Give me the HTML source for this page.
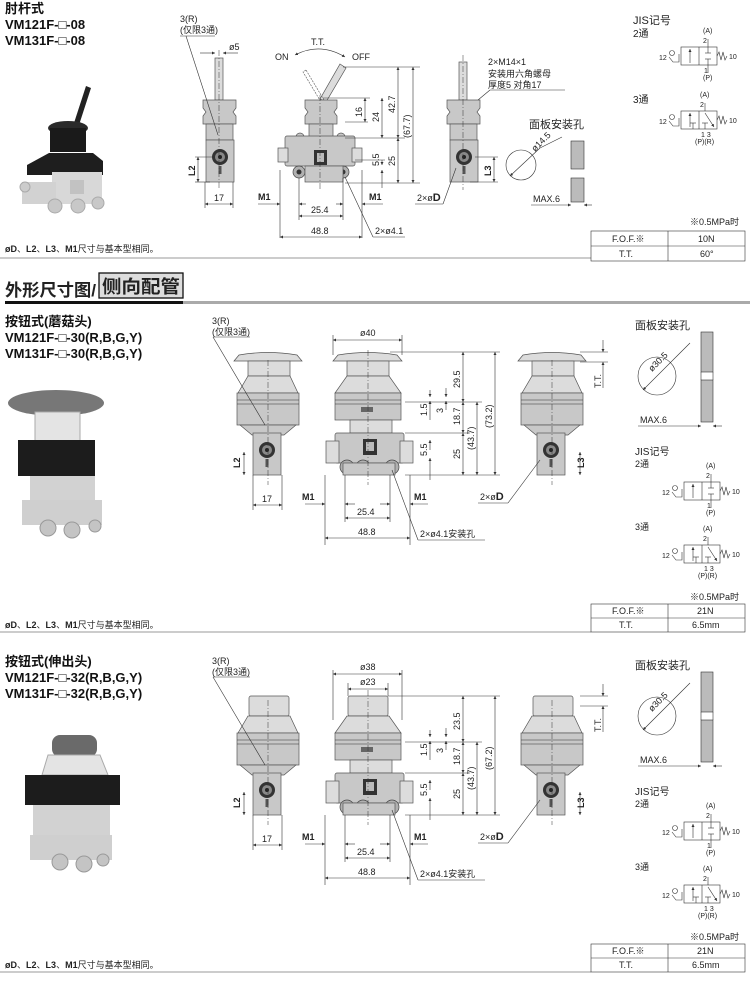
<!DOCTYPE html>
<html><head><meta charset="utf-8"><style>
body{margin:0;background:#fff;width:750px;height:982px;overflow:hidden}
svg{display:block}
text{font-family:"Liberation Sans","Noto Sans CJK SC",sans-serif;fill:#222}
.t{font-size:9px}
.b{font-weight:bold}
.ti{font-size:13px;font-weight:bold;fill:#111}
.g1{fill:#c8c8c8;stroke:#555;stroke-width:.7}
.g2{fill:#dcdcdc;stroke:#555;stroke-width:.7}
.g3{fill:#b0b0b0;stroke:#444;stroke-width:.7}
.d{stroke:#333;stroke-width:.6;fill:none}
.c{stroke:#333;stroke-width:.5;fill:none;stroke-dasharray:6 2 1 2}
</style></head><body>
<svg width="750" height="982" viewBox="0 0 750 982" xmlns="http://www.w3.org/2000/svg">
<defs>
<marker id="a" viewBox="0 0 6 6" refX="6" refY="3" markerWidth="5" markerHeight="5" orient="auto-start-reverse"><path d="M0,0L6,3L0,6z" fill="#333"/></marker>
<g id="sideLow">
<rect class="g1" x="-14" y="0" width="28" height="42"/>
<circle cx="0" cy="17" r="8" fill="#333"/><circle cx="0" cy="17" r="5" fill="#888"/><circle cx="0" cy="17" r="2" fill="#222"/>
<rect x="-1.5" y="26" width="3" height="8" fill="#555"/>
</g>
<g id="frontBase">
<rect class="g1" x="-34" y="0" width="69" height="30" rx="2"/>
<rect class="g2" x="-43" y="8" width="13" height="22"/><rect class="g2" x="31" y="8" width="13" height="22"/>
<rect x="-6" y="6" width="14" height="16" fill="#333"/><rect x="-3" y="9" width="8" height="9" fill="#bbb"/>
<circle cx="-22" cy="34" r="7" class="g3"/><circle cx="-22" cy="34" r="3" fill="#333"/>
<circle cx="-6" cy="34" r="7" class="g3"/><circle cx="-6" cy="34" r="3" fill="#333"/>
<circle cx="23" cy="34" r="7" class="g3"/><circle cx="23" cy="34" r="3" fill="#333"/>
<rect class="g1" x="-26" y="30" width="52" height="12"/>
</g>
<g id="pbBody">
<path class="g2" d="M248,376h42l8,17h-60z"/><rect class="g1" x="237" y="393" width="62" height="32"/>
<line class="d" x1="237" y1="400" x2="299" y2="400"/><line class="d" x1="237" y1="404" x2="299" y2="404"/>
<path class="g1" d="M240,425h56l-12,10h-32z"/>
<use href="#sideLow" x="267" y="433"/>
<path class="g2" d="M347,376h42l12,17h-66z"/><rect class="g1" x="335" y="393" width="66" height="27"/>
<line class="d" x1="335" y1="400" x2="401" y2="400"/><line class="d" x1="335" y1="404" x2="401" y2="404"/>
<rect class="g2" x="350" y="420" width="42" height="13"/><rect x="361" y="407" width="12" height="5" fill="#666"/>
<use href="#frontBase" x="369" y="433"/>
<path class="g2" d="M532,376h42l8,17h-60z"/><rect class="g1" x="521" y="393" width="62" height="32"/>
<line class="d" x1="521" y1="400" x2="583" y2="400"/><line class="d" x1="521" y1="404" x2="583" y2="404"/>
<path class="g1" d="M524,425h56l-12,10h-32z"/>
<use href="#sideLow" x="551" y="433"/>
<line class="d" x1="253" y1="505" x2="282" y2="505" marker-start="url(#a)" marker-end="url(#a)"/><text class="t" x="262" y="502">17</text>
<line class="d" x1="253" y1="475" x2="253" y2="510"/><line class="d" x1="282" y1="475" x2="282" y2="510"/>
<line class="d" x1="244" y1="452" x2="244" y2="475" marker-start="url(#a)" marker-end="url(#a)"/><text class="t b" x="0" y="0" transform="translate(240,468) rotate(-90)">L2</text>
<line class="d" x1="580" y1="452" x2="580" y2="475" marker-start="url(#a)" marker-end="url(#a)"/><text class="t b" x="0" y="0" transform="translate(584,468) rotate(-90)">L3</text>
<line class="d" x1="325" y1="475" x2="325" y2="545"/><line class="d" x1="410" y1="475" x2="410" y2="545"/>
<line class="d" x1="345" y1="475" x2="345" y2="522"/><line class="d" x1="390" y1="475" x2="390" y2="522"/>
<line class="d" x1="305" y1="504" x2="325" y2="504" marker-end="url(#a)"/><line class="d" x1="345" y1="504" x2="355" y2="504" marker-start="url(#a)"/>
<line class="d" x1="380" y1="504" x2="390" y2="504" marker-end="url(#a)"/><line class="d" x1="410" y1="504" x2="428" y2="504" marker-start="url(#a)"/>
<text class="t b" x="302" y="500">M1</text><text class="t b" x="414" y="500">M1</text>
<line class="d" x1="345" y1="518" x2="390" y2="518" marker-start="url(#a)" marker-end="url(#a)"/><text class="t" x="357" y="515">25.4</text>
<line class="d" x1="325" y1="538" x2="410" y2="538" marker-start="url(#a)" marker-end="url(#a)"/><text class="t" x="358" y="535">48.8</text>
<line class="d" x1="392" y1="470" x2="418" y2="540"/><line class="d" x1="418" y1="540" x2="485" y2="540"/><text class="t" x="420" y="537">2×ø4.1安装孔</text>
<line class="d" x1="540" y1="460" x2="508" y2="503"/><line class="d" x1="478" y1="503" x2="508" y2="503"/><text class="t" x="480" y="500">2×ø<tspan class="b" font-size="11">D</tspan></text>
<line class="d" x1="405" y1="475" x2="500" y2="475"/><line class="d" x1="405" y1="433" x2="470" y2="433"/><line class="d" x1="405" y1="402" x2="482" y2="402"/>
<line class="d" x1="463" y1="402" x2="463" y2="433" marker-start="url(#a)" marker-end="url(#a)"/><text class="t" transform="translate(460,425) rotate(-90)">18.7</text>
<line class="d" x1="463" y1="433" x2="463" y2="475" marker-start="url(#a)" marker-end="url(#a)"/><text class="t" transform="translate(460,459) rotate(-90)">25</text>
<line class="d" x1="477" y1="402" x2="477" y2="475" marker-start="url(#a)" marker-end="url(#a)"/><text class="t" transform="translate(474,450) rotate(-90)">(43.7)</text>
<line class="d" x1="430" y1="440" x2="430" y2="450" marker-start="url(#a)"/><line class="d" x1="430" y1="458" x2="430" y2="480" marker-start="url(#a)"/><text class="t" transform="translate(427,456) rotate(-90)">5.5</text>
<line class="d" x1="430" y1="390" x2="430" y2="397" marker-end="url(#a)"/><line class="d" x1="430" y1="401" x2="430" y2="420" marker-start="url(#a)"/><text class="t" transform="translate(427,416) rotate(-90)">1.5</text>
<line class="d" x1="446" y1="388" x2="446" y2="397" marker-end="url(#a)"/><line class="d" x1="446" y1="401" x2="446" y2="410" marker-start="url(#a)"/><text class="t" transform="translate(443,413) rotate(-90)">3</text>
<line class="c" x1="268" y1="360" x2="268" y2="485"/><line class="c" x1="368" y1="350" x2="368" y2="485"/><line class="c" x1="552" y1="360" x2="552" y2="485"/>
<line class="d" x1="213" y1="337" x2="265" y2="425"/><line class="d" x1="213" y1="337" x2="250" y2="337"/>
<text x="635" y="329" font-size="11">面板安装孔</text>
<circle cx="657" cy="376" r="19" class="d"/><line class="d" x1="643" y1="390" x2="683" y2="350" marker-start="url(#a)"/><line class="d" x1="683" y1="350" x2="690" y2="343"/>
<text class="t" transform="translate(652,372) rotate(-45)">ø30.5</text>
<rect x="701" y="332" width="12" height="40" fill="#bbb" stroke="#333" stroke-width=".6"/><rect x="701" y="380" width="12" height="42" fill="#bbb" stroke="#333" stroke-width=".6"/>
<line class="d" x1="701" y1="372" x2="701" y2="380"/><line class="d" x1="713" y1="372" x2="713" y2="380"/>
<line class="d" x1="638" y1="426" x2="701" y2="426" marker-end="url(#a)"/><line class="d" x1="713" y1="426" x2="722" y2="426" marker-start="url(#a)"/>
<text class="t" x="640" y="423">MAX.6</text>
<text x="635" y="455" font-size="10">JIS记号</text><text x="635" y="467" font-size="9">2通</text>
<use href="#jis2" x="662" y="470"/>
<text x="635" y="530" font-size="9">3通</text>
<use href="#jis3" x="662" y="533"/>
<text class="t" x="690" y="600">※0.5MPa时</text>
<rect x="591" y="604" width="154" height="28" class="d"/><line class="d" x1="591" y1="618" x2="745" y2="618"/><line class="d" x1="668" y1="604" x2="668" y2="632"/>
<text class="t" x="612" y="614">F.O.F.※</text><text class="t" x="697" y="614">21N</text>
<text class="t" x="619" y="628">T.T.</text><text class="t" x="692" y="628">6.5mm</text>
<line class="d" x1="0" y1="632" x2="591" y2="632"/>
<text class="t" x="5" y="628"><tspan class="b">øD</tspan>、<tspan class="b">L2</tspan>、<tspan class="b">L3</tspan>、<tspan class="b">M1</tspan>尺寸与基本型相同。</text>
<text class="t" x="212" y="324">3(R)</text><text class="t" x="212" y="335">(仅限3通)</text>
</g>
<g id="jis2">
<text x="0" y="25" font-size="7">12</text>
<path class="d" d="M10,22l4,5h6v-8"/><circle cx="13" cy="18" r="2.5" class="d"/>
<rect x="22" y="12" width="36" height="18" class="d"/><line class="d" x1="40" y1="12" x2="40" y2="30"/>
<line class="d" x1="31" y1="28" x2="31" y2="14" marker-end="url(#a)"/>
<line class="d" x1="49" y1="12" x2="49" y2="18"/><line class="d" x1="46" y1="18" x2="52" y2="18"/><line class="d" x1="49" y1="30" x2="49" y2="24"/><line class="d" x1="46" y1="24" x2="52" y2="24"/>
<path class="d" d="M58,21l2,-4l2,8l2,-8l2,8l2,-4"/><text x="70" y="24" font-size="7">10</text>
<line class="d" x1="49" y1="4" x2="49" y2="12"/><line class="d" x1="49" y1="30" x2="49" y2="38"/>
<text x="44" y="-2" font-size="7">(A)</text><text x="44" y="8" font-size="7">2</text><text x="45" y="38" font-size="7">1</text><text x="44" y="45" font-size="7">(P)</text>
</g>
<g id="jis3">
<text x="0" y="25" font-size="7">12</text>
<path class="d" d="M10,22l4,5h6v-8"/><circle cx="13" cy="18" r="2.5" class="d"/>
<rect x="22" y="12" width="36" height="18" class="d"/><line class="d" x1="40" y1="12" x2="40" y2="30"/>
<line class="d" x1="31" y1="28" x2="31" y2="14" marker-end="url(#a)"/>
<line class="d" x1="46" y1="14" x2="55" y2="28" marker-end="url(#a)"/>
<line class="d" x1="34" y1="30" x2="34" y2="24"/><line class="d" x1="31" y1="24" x2="37" y2="24"/>
<line class="d" x1="46" y1="30" x2="46" y2="24"/><line class="d" x1="43" y1="24" x2="49" y2="24"/>
<path class="d" d="M58,21l2,-4l2,8l2,-8l2,8l2,-4"/><text x="70" y="24" font-size="7">10</text>
<line class="d" x1="46" y1="4" x2="46" y2="12"/>
<text x="41" y="-2" font-size="7">(A)</text><text x="41" y="8" font-size="7">2</text><text x="42" y="38" font-size="7">1 3</text><text x="36" y="45" font-size="7">(P)(R)</text>
</g>
</defs>

<!-- SECTION 1 -->
<text class="ti" x="5" y="13">肘杆式</text>
<text class="ti" x="5" y="29" font-size="12">VM121F-□-08</text>
<text class="ti" x="5" y="45" font-size="12">VM131F-□-08</text>
<path d="M86,86l5,2l-12,37l-5,-2z" fill="#222"/>
<ellipse cx="68" cy="128" rx="20" ry="7" fill="#2a2a2a"/><rect x="50" y="128" width="36" height="24" fill="#1a1a1a"/>
<path d="M27,165l22,-12h44l10,8v14h-76z" fill="#1e1e1e"/>
<rect x="52" y="172" width="50" height="32" fill="#d8d8d8"/><rect x="70" y="180" width="14" height="14" fill="#c2c2c2"/>
<rect x="22" y="182" width="34" height="22" fill="#d2d2d2"/>
<circle cx="55" cy="206" r="7" fill="#c8c8c8" stroke="#aaa"/><circle cx="78" cy="206" r="7" fill="#c8c8c8" stroke="#aaa"/><circle cx="98" cy="203" r="6" fill="#c8c8c8" stroke="#aaa"/><circle cx="25" cy="187" r="5" fill="#ccc" stroke="#aaa"/>
<rect class="g2" x="215" y="58" width="8" height="42"/>
<path class="g1" d="M203,100h33v8l-3,4l3,4v8h-33v-8l3,-4l-3,-4z"/>
<rect class="g1" x="206" y="124" width="27" height="16"/>
<use href="#sideLow" x="220" y="140"/>
<line class="c" x1="219" y1="50" x2="219" y2="190"/>
<line class="d" x1="186" y1="36" x2="218" y2="135"/><line class="d" x1="180" y1="36" x2="215" y2="36"/>
<text class="t" x="180" y="22">3(R)</text><text class="t" x="180" y="33">(仅限3通)</text>
<line class="d" x1="200" y1="53" x2="215" y2="53" marker-end="url(#a)"/><line class="d" x1="223" y1="53" x2="238" y2="53" marker-start="url(#a)"/><text class="t" x="229" y="50">ø5</text>
<line class="d" x1="205" y1="182" x2="205" y2="208"/><line class="d" x1="233" y1="182" x2="233" y2="208"/>
<line class="d" x1="205" y1="204" x2="233" y2="204" marker-start="url(#a)" marker-end="url(#a)"/><text class="t" x="214" y="201">17</text>
<line class="d" x1="198" y1="157" x2="198" y2="182" marker-start="url(#a)" marker-end="url(#a)"/><text class="t b" transform="translate(195,176) rotate(-90)">L2</text>
<line class="d" x1="195" y1="182" x2="210" y2="182"/><line class="d" x1="195" y1="157" x2="215" y2="157"/>
<path class="g2" d="M340,64l6,4l-20,34l-6,-3z"/>
<path d="M306,70l-3,2l18,30l3,-2z" fill="none" stroke="#555" stroke-dasharray="2 1" stroke-width=".6"/>
<path class="g1" d="M305,100h32v8l-3,4l3,4v8h-32v-8l3,-4l-3,-4z"/>
<rect class="g1" x="309" y="124" width="24" height="14"/>
<circle class="g1" cx="300" cy="137" r="4"/><circle class="g1" cx="341" cy="137" r="4"/>
<rect class="g1" x="285" y="136" width="70" height="30" rx="2"/>
<rect class="g2" x="278" y="148" width="10" height="14"/><rect class="g2" x="352" y="148" width="10" height="14"/>
<rect x="314" y="150" width="13" height="15" fill="#333"/><rect x="317" y="153" width="7" height="9" fill="#bbb"/>
<circle cx="299" cy="172" r="6" class="g3"/><circle cx="299" cy="172" r="2.5" fill="#333"/>
<circle cx="320" cy="172" r="6" class="g3"/><circle cx="320" cy="172" r="2.5" fill="#333"/>
<circle cx="343" cy="172" r="6" class="g3"/><circle cx="343" cy="172" r="2.5" fill="#333"/>
<rect class="g1" x="305" y="166" width="38" height="16"/>
<line class="c" x1="320" y1="95" x2="320" y2="190"/>
<path class="d" d="M295,55Q320,42 345,57" marker-start="url(#a)" marker-end="url(#a)"/>
<text class="t" x="311" y="45">T.T.</text><text class="t" x="275" y="60">ON</text><text class="t" x="352" y="60">OFF</text>
<line class="d" x1="343" y1="67" x2="420" y2="67"/><line class="d" x1="323" y1="98" x2="370" y2="98"/><line class="d" x1="345" y1="138" x2="405" y2="138"/><line class="d" x1="345" y1="183" x2="420" y2="183"/>
<line class="d" x1="345" y1="122" x2="368" y2="122"/><line class="d" x1="355" y1="160" x2="385" y2="160"/>
<line class="d" x1="365" y1="98" x2="365" y2="122" marker-start="url(#a)" marker-end="url(#a)"/><text class="t" transform="translate(362,117) rotate(-90)">16</text>
<line class="d" x1="382" y1="98" x2="382" y2="138" marker-start="url(#a)" marker-end="url(#a)"/><text class="t" transform="translate(379,122) rotate(-90)">24</text>
<line class="d" x1="398" y1="67" x2="398" y2="138" marker-start="url(#a)" marker-end="url(#a)"/><text class="t" transform="translate(395,113) rotate(-90)">42.7</text>
<line class="d" x1="413" y1="67" x2="413" y2="183" marker-start="url(#a)" marker-end="url(#a)"/><text class="t" transform="translate(410,138) rotate(-90)">(67.7)</text>
<line class="d" x1="398" y1="138" x2="398" y2="183" marker-start="url(#a)" marker-end="url(#a)"/><text class="t" transform="translate(395,166) rotate(-90)">25</text>
<line class="d" x1="382" y1="160" x2="382" y2="165" marker-end="url(#a)"/><line class="d" x1="382" y1="170" x2="382" y2="188" marker-start="url(#a)"/><text class="t" transform="translate(379,166) rotate(-90)">5.5</text>
<line class="d" x1="280" y1="170" x2="280" y2="238"/><line class="d" x1="362" y1="170" x2="362" y2="238"/>
<line class="d" x1="299" y1="178" x2="299" y2="220"/><line class="d" x1="343" y1="178" x2="343" y2="220"/>
<line class="d" x1="258" y1="204" x2="280" y2="204" marker-end="url(#a)"/><line class="d" x1="299" y1="204" x2="306" y2="204" marker-start="url(#a)"/>
<line class="d" x1="336" y1="204" x2="343" y2="204" marker-end="url(#a)"/><line class="d" x1="362" y1="204" x2="383" y2="204" marker-start="url(#a)"/>
<text class="t b" x="258" y="200">M1</text><text class="t b" x="369" y="200">M1</text>
<line class="d" x1="299" y1="216" x2="343" y2="216" marker-start="url(#a)" marker-end="url(#a)"/><text class="t" x="311" y="213">25.4</text>
<line class="d" x1="280" y1="237" x2="362" y2="237" marker-start="url(#a)" marker-end="url(#a)"/><text class="t" x="311" y="234">48.8</text>
<line class="d" x1="345" y1="177" x2="373" y2="237"/><line class="d" x1="373" y1="237" x2="405" y2="237"/><text class="t" x="375" y="234">2×ø4.1</text>
<rect class="g2" x="459" y="62" width="8" height="38"/>
<path class="g1" d="M447,100h33v8l-3,4l3,4v8h-33v-8l3,-4l-3,-4z"/>
<rect class="g1" x="450" y="124" width="27" height="16"/>
<use href="#sideLow" x="464" y="140"/>
<line class="c" x1="463" y1="55" x2="463" y2="190"/>
<line class="d" x1="478" y1="100" x2="490" y2="90"/><line class="d" x1="490" y1="90" x2="565" y2="90"/>
<text class="t" x="488" y="65">2×M14×1</text><text class="t" x="488" y="77">安装用六角螺母</text><text class="t" x="488" y="88">厚度5  对角17</text>
<line class="d" x1="494" y1="157" x2="494" y2="182" marker-start="url(#a)" marker-end="url(#a)"/><text class="t b" transform="translate(491,176) rotate(-90)">L3</text>
<line class="d" x1="470" y1="182" x2="498" y2="182"/><line class="d" x1="475" y1="157" x2="498" y2="157"/>
<line class="d" x1="456" y1="168" x2="443" y2="204"/><line class="d" x1="415" y1="204" x2="443" y2="204"/><text class="t" x="417" y="201">2×ø<tspan class="b" font-size="11">D</tspan></text>
<text x="529" y="128" font-size="11">面板安装孔</text>
<circle cx="521" cy="165" r="15" class="d"/><line class="d" x1="510" y1="176" x2="540" y2="148" marker-start="url(#a)"/><line class="d" x1="540" y1="148" x2="562" y2="137"/>
<text class="t" transform="translate(535,152) rotate(-45)">ø14.5</text>
<rect x="571" y="141" width="13" height="28" fill="#bbb" stroke="#333" stroke-width=".6"/><rect x="571" y="178" width="13" height="24" fill="#bbb" stroke="#333" stroke-width=".6"/>
<line class="d" x1="531" y1="205" x2="571" y2="205" marker-end="url(#a)"/><line class="d" x1="584" y1="205" x2="592" y2="205" marker-start="url(#a)"/><text class="t" x="533" y="202">MAX.6</text>
<text x="633" y="24" font-size="11">JIS记号</text><text x="633" y="37" font-size="10">2通</text>
<use href="#jis2" x="659" y="35"/>
<text x="633" y="103" font-size="10">3通</text>
<use href="#jis3" x="659" y="99"/>
<text class="t" x="690" y="225">※0.5MPa时</text>
<rect x="591" y="231" width="154" height="30" class="d"/><line class="d" x1="591" y1="246" x2="745" y2="246"/><line class="d" x1="668" y1="231" x2="668" y2="261"/>
<text class="t" x="612" y="242">F.O.F.※</text><text class="t" x="698" y="242">10N</text>
<text class="t" x="619" y="257">T.T.</text><text class="t" x="700" y="257">60°</text>
<line class="d" x1="0" y1="258" x2="591" y2="258"/>
<text class="t" x="5" y="252"><tspan class="b">øD</tspan>、<tspan class="b">L2</tspan>、<tspan class="b">L3</tspan>、<tspan class="b">M1</tspan>尺寸与基本型相同。</text>

<!-- header -->
<text x="5" y="296" font-size="17" font-weight="bold" fill="#111" textLength="91" lengthAdjust="spacingAndGlyphs">外形尺寸图/</text>
<rect x="99" y="273" width="84" height="25" fill="#ddd" stroke="#111" stroke-width="1.3"/>
<text x="102" y="293" font-size="18" font-weight="bold" fill="#111" textLength="78" lengthAdjust="spacingAndGlyphs">侧向配管</text>
<rect x="5" y="301" width="178" height="3" fill="#111"/><rect x="183" y="301" width="567" height="3" fill="#aaa"/>

<!-- SECTION 2 -->
<text class="ti" x="5" y="326">按钮式(蘑菇头)</text>
<text class="ti" x="5" y="342" font-size="12">VM121F-□-30(R,B,G,Y)</text>
<text class="ti" x="5" y="358" font-size="12">VM131F-□-30(R,B,G,Y)</text>
<ellipse cx="56" cy="403" rx="48" ry="13" fill="#777"/>
<rect x="35" y="412" width="45" height="30" fill="#e4e4e4" stroke="#aaa"/>
<rect x="18" y="440" width="77" height="36" fill="#1c1c1c"/>
<rect x="30" y="476" width="65" height="45" fill="#d2d2d2"/><rect x="22" y="500" width="80" height="25" fill="#cfcfcf"/>
<circle cx="48" cy="528" r="8" fill="#c4c4c4" stroke="#999"/><circle cx="72" cy="530" r="8" fill="#c4c4c4" stroke="#999"/><circle cx="95" cy="526" r="6" fill="#c4c4c4" stroke="#999"/>
<path class="g2" d="M234,361l5,-6q29,-5 58,0l5,6z"/><rect class="g2" x="248" y="361" width="42" height="15"/>
<path class="g2" d="M333,361l5,-6q30,-5 59,0l5,6z"/><rect class="g2" x="347" y="361" width="42" height="15"/>
<path class="g2" d="M518,361l5,-6q29,-5 58,0l5,6z"/><rect class="g2" x="532" y="361" width="42" height="15"/>
<line class="d" x1="333" y1="335" x2="333" y2="355"/><line class="d" x1="402" y1="335" x2="402" y2="355"/>
<line class="d" x1="333" y1="340" x2="402" y2="340" marker-start="url(#a)" marker-end="url(#a)"/><text class="t" x="360" y="336">ø40</text>
<line class="d" x1="390" y1="352" x2="500" y2="352"/>
<line class="d" x1="463" y1="352" x2="463" y2="402" marker-start="url(#a)" marker-end="url(#a)"/><text class="t" transform="translate(460,388) rotate(-90)">29.5</text>
<line class="d" x1="495" y1="352" x2="495" y2="475" marker-start="url(#a)" marker-end="url(#a)"/><text class="t" transform="translate(492,428) rotate(-90)">(73.2)</text>
<line class="d" x1="580" y1="352" x2="608" y2="352"/><line class="d" x1="580" y1="362" x2="608" y2="362"/>
<line class="d" x1="603" y1="340" x2="603" y2="352" marker-end="url(#a)"/><line class="d" x1="603" y1="362" x2="603" y2="388" marker-start="url(#a)"/><text class="t" transform="translate(601,388) rotate(-90)">T.T.</text>
<use href="#pbBody"/>

<!-- SECTION 3 -->
<text class="ti" x="5" y="666">按钮式(伸出头)</text>
<text class="ti" x="5" y="682" font-size="12">VM121F-□-32(R,B,G,Y)</text>
<text class="ti" x="5" y="698" font-size="12">VM131F-□-32(R,B,G,Y)</text>
<rect x="52" y="735" width="45" height="22" rx="8" fill="#6a6a6a"/>
<path d="M42,775l6,-20h52l8,20z" fill="#e4e4e4" stroke="#aaa"/>
<rect x="25" y="775" width="95" height="30" fill="#1c1c1c"/>
<rect x="33" y="805" width="77" height="50" fill="#d2d2d2"/><rect x="30" y="835" width="82" height="25" fill="#cfcfcf"/>
<circle cx="60" cy="862" r="8" fill="#c4c4c4" stroke="#999"/><circle cx="84" cy="864" r="8" fill="#c4c4c4" stroke="#999"/><circle cx="103" cy="860" r="6" fill="#c4c4c4" stroke="#999"/>
<g transform="translate(0,340)">
<rect class="g2" x="249" y="356" width="40" height="20" rx="2"/>
<rect class="g2" x="348" y="356" width="40" height="20" rx="2"/>
<rect class="g2" x="533" y="356" width="40" height="20" rx="2"/>
<line class="d" x1="333" y1="330" x2="333" y2="380"/><line class="d" x1="402" y1="330" x2="402" y2="380"/>
<line class="d" x1="333" y1="334" x2="402" y2="334" marker-start="url(#a)" marker-end="url(#a)"/><text class="t" x="360" y="330">ø38</text>
<line class="d" x1="348" y1="343" x2="348" y2="356"/><line class="d" x1="388" y1="343" x2="388" y2="356"/>
<line class="d" x1="348" y1="349" x2="388" y2="349" marker-start="url(#a)" marker-end="url(#a)"/><text class="t" x="360" y="345">ø23</text>
<line class="d" x1="388" y1="356" x2="500" y2="356"/>
<line class="d" x1="463" y1="356" x2="463" y2="402" marker-start="url(#a)" marker-end="url(#a)"/><text class="t" transform="translate(460,390) rotate(-90)">23.5</text>
<line class="d" x1="495" y1="356" x2="495" y2="475" marker-start="url(#a)" marker-end="url(#a)"/><text class="t" transform="translate(492,430) rotate(-90)">(67.2)</text>
<line class="d" x1="580" y1="356" x2="608" y2="356"/><line class="d" x1="580" y1="366" x2="608" y2="366"/>
<line class="d" x1="603" y1="344" x2="603" y2="356" marker-end="url(#a)"/><line class="d" x1="603" y1="366" x2="603" y2="392" marker-start="url(#a)"/><text class="t" transform="translate(601,392) rotate(-90)">T.T.</text>
<use href="#pbBody"/>
</g>
</svg>
</body></html>
